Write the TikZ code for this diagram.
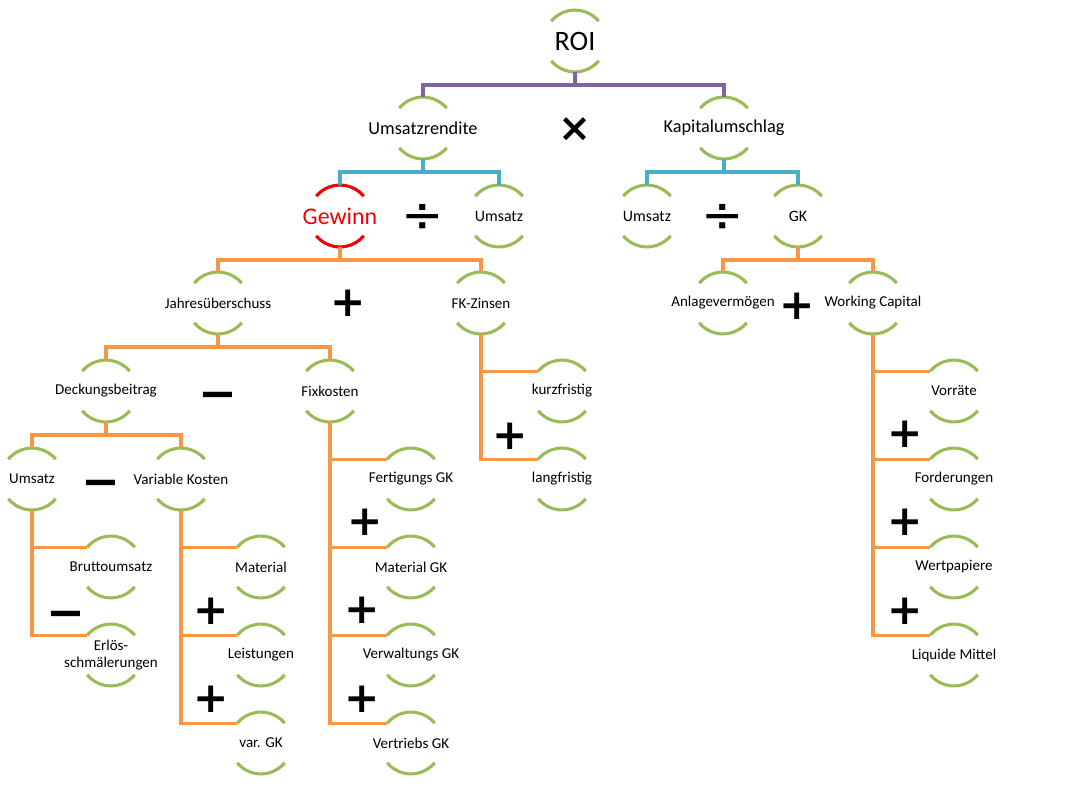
\documentclass[tikz,border=0pt]{standalone}
\usepackage{fontspec}
\setmainfont{Carlito}
\newfontfamily\opfont{DejaVu Sans}
\definecolor{gruen}{RGB}{155,187,89}
\definecolor{lila}{RGB}{128,100,162}
\definecolor{blau}{RGB}{75,172,198}
\definecolor{orangeline}{RGB}{247,150,70}
\definecolor{rot}{RGB}{240,0,0}
\def\rr{22pt}
\newcommand{\boegen}[2][gruen]{%
\draw[#1, line width=2.2pt] ([shift={(140:\rr)}]#2.center) arc[start angle=140, end angle=40, radius=\rr];
\draw[#1, line width=2.2pt] ([shift={(220:\rr)}]#2.center) arc[start angle=220, end angle=320, radius=\rr];}
\newcommand{\gabel}[4]{%
\draw[#1] ([yshift=-\rr]#2.center) -- ++(0,13) coordinate (tmp) -| ([yshift=\rr]#3.center);
\draw[#1] (tmp) -| ([yshift=\rr]#4.center);}
\newcommand{\liste}[2]{%
\draw[orangeline, line width=2.3pt] ([yshift=-\rr]#1.center) |- ([shift={(140:\rr)}]#2.center);}
\begin{document}
\begin{tikzpicture}[x=0.025cm, y=-0.025cm,
  txt/.style={font=\fontsize{10.7}{12.5}\selectfont},
  txtb/.style={font=\fontsize{11.3}{13}\selectfont},
  txtc/.style={font=\fontsize{13}{15}\selectfont},
  plus/.style={font=\opfont\bfseries\fontsize{30}{30}\selectfont, inner sep=0pt},
  minus/.style={font=\opfont\bfseries\fontsize{33}{33}\selectfont, inner sep=0pt},
  mal/.style={font=\opfont\bfseries\fontsize{28}{28}\selectfont, inner sep=0pt},
  geteilt/.style={font=\opfont\fontsize{36}{36}\selectfont, inner sep=0pt},
  lilaline/.style={lila, line width=2.3pt},
  blauline/.style={blau, line width=2.3pt},
  orline/.style={orangeline, line width=2.3pt}]
\useasboundingbox (0,0) rectangle (1068,785);
\node[font=\fontsize{20}{22}\selectfont] (roi) at (575,41) {ROI};
\node[txtc] (urendite) at (423,128) {Umsatzrendite};
\node[txtc] (kumschlag) at (724,128) {Kapitalumschlag};
\node[font=\fontsize{17}{19}\selectfont, text=rot] (gewinn) at (340,216) {Gewinn};
\node[txtb] (umsatzA) at (499,216) {Umsatz};
\node[txtb] (umsatzB) at (647,216) {Umsatz};
\node[txtb] (gk) at (798,216) {GK};
\node[txt] (jue) at (218,303) {Jahresüberschuss};
\node[txt] (fkz) at (481,303) {FK-Zinsen};
\node[txt] (anlage) at (723,303) {Anlagevermögen};
\node[txt] (wcap) at (873,303) {Working Capital};
\node[txt] (db) at (106,391) {Deckungsbeitrag};
\node[txt] (fix) at (330,391) {Fixkosten};
\node[txt] (kurz) at (562,391) {kurzfristig};
\node[txt] (lang) at (562,479) {langfristig};
\node[txt] (umsatzC) at (32,479) {Umsatz};
\node[txt] (vk) at (181,479) {Variable Kosten};
\node[txt] (brutto) at (111,567) {Bruttoumsatz};
\node[txt, align=center] (erloes) at (111,655) {Erlös-\\schmälerungen};
\node[txt] (mat) at (261,567) {Material};
\node[txt] (leist) at (261,655) {Leistungen};
\node[txt] (vargk) at (261,743) {var. GK};
\node[txt] (fert) at (411,479) {Fertigungs GK};
\node[txt] (matgk) at (411,567) {Material GK};
\node[txt] (verw) at (411,655) {Verwaltungs GK};
\node[txt] (vertr) at (411,743) {Vertriebs GK};
\node[txt] (vorr) at (954,391) {Vorräte};
\node[txt] (ford) at (954,479) {Forderungen};
\node[txt] (wertp) at (954,567) {Wertpapiere};
\node[txt] (liq) at (954,655) {Liquide Mittel};
\foreach \k in {roi, urendite, kumschlag, umsatzA, umsatzB, gk, jue, fkz, anlage, wcap, db, fix, kurz, lang, umsatzC, vk, brutto, erloes, mat, leist, vargk, fert, matgk, verw, vertr, vorr, ford, wertp, liq}
  \boegen{\k};
\boegen[rot]{gewinn}
\gabel{lilaline}{roi}{urendite}{kumschlag}
\gabel{blauline}{urendite}{gewinn}{umsatzA}
\gabel{blauline}{kumschlag}{umsatzB}{gk}
\gabel{orline}{gewinn}{jue}{fkz}
\gabel{orline}{gk}{anlage}{wcap}
\gabel{orline}{jue}{db}{fix}
\gabel{orline}{db}{umsatzC}{vk}
\liste{fkz}{kurz}
\liste{fkz}{lang}
\liste{umsatzC}{brutto}
\liste{umsatzC}{erloes}
\liste{vk}{mat}
\liste{vk}{leist}
\liste{vk}{vargk}
\liste{fix}{fert}
\liste{fix}{matgk}
\liste{fix}{verw}
\liste{fix}{vertr}
\liste{wcap}{vorr}
\liste{wcap}{ford}
\liste{wcap}{wertp}
\liste{wcap}{liq}
\node[mal] (op1) at (575,130) {×};
\node[geteilt] (op2) at (423,218) {÷};
\node[geteilt] (op3) at (723,218) {÷};
\node[plus] (op4) at (348,303) {+};
\node[plus] (op5) at (797,306) {+};
\node[minus] (op6) at (218,401) {−};
\node[plus] (op7) at (510,436) {+};
\node[minus] (op8) at (101,489) {−};
\node[minus] (op9) at (66,620) {−};
\node[plus] (op10) at (211,611) {+};
\node[plus] (op11) at (211,699) {+};
\node[plus] (op12) at (365,522) {+};
\node[plus] (op13) at (362,610) {+};
\node[plus] (op14) at (362,699) {+};
\node[plus] (op15) at (905,434) {+};
\node[plus] (op16) at (905,522) {+};
\node[plus] (op17) at (905,611) {+};
\end{tikzpicture}
\end{document}
